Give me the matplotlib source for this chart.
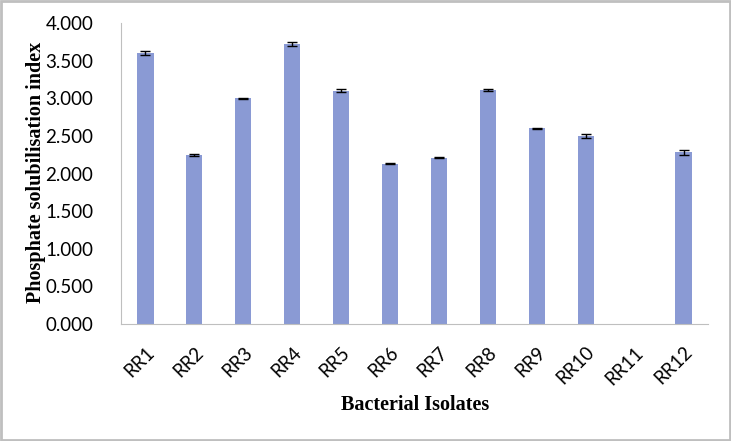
import numpy as np
import matplotlib.pyplot as plt
from matplotlib.patches import Rectangle

isolates = ['RR1', 'RR2', 'RR3', 'RR4', 'RR5', 'RR6', 'RR7', 'RR8', 'RR9', 'RR10', 'RR11', 'RR12']
psi = [3.60, 2.25, 3.00, 3.72, 3.10, 2.13, 2.21, 3.11, 2.60, 2.50, 0.0, 2.28]
sem = [0.03, 0.012, 0.005, 0.025, 0.02, 0.006, 0.01, 0.01, 0.008, 0.03, 0.0, 0.03]

fig = plt.figure(figsize=(7.31, 4.41), dpi=100)
ax = fig.add_axes([0.1655, 0.2653, 0.803, 0.6825])

x = np.arange(len(isolates))
ax.bar(x, psi, width=0.33, color='#8A9AD4', zorder=2)
# RR11 has no growth, so no error bar
has_err = np.array(sem) > 0
ax.errorbar(x[has_err], np.array(psi)[has_err], yerr=np.array(sem)[has_err], fmt='none',
            ecolor='black', elinewidth=1, capsize=3.5, capthick=1, zorder=3)

ax.set_xlim(-0.5, len(isolates) - 0.5)
ax.set_ylim(0, 4)
ax.set_yticks(np.arange(0, 4.01, 0.5))
ax.set_yticklabels(['%.3f' % v for v in np.arange(0, 4.01, 0.5)], fontsize=13.5, family='Lato')
ax.set_xticks(x)
ax.set_xticklabels(isolates, rotation=45, ha='right', rotation_mode='anchor', fontsize=13.5, family='Lato')
ax.tick_params(axis='both', length=0)
ax.tick_params(axis='x', pad=14)
ax.tick_params(axis='y', pad=20)

for s in ['top', 'right']:
    ax.spines[s].set_visible(False)
ax.spines['left'].set_color('#BFBFBF')
ax.spines['bottom'].set_color('#BFBFBF')

fig.text(0.049, 0.61, 'Phosphate solubilisation index', rotation=90, ha='center', va='center',
         fontsize=14.5, fontweight='bold', family='Liberation Serif')
fig.text(0.568, 0.082, 'Bacterial Isolates', ha='center', va='center',
         fontsize=14.5, fontweight='bold', family='Liberation Serif')

fig.patches.append(Rectangle((0.002, 0.003), 0.996, 0.994, transform=fig.transFigure,
                             fill=False, edgecolor='#BFBFBF', linewidth=2))

fig.savefig('out.png', dpi=100)
